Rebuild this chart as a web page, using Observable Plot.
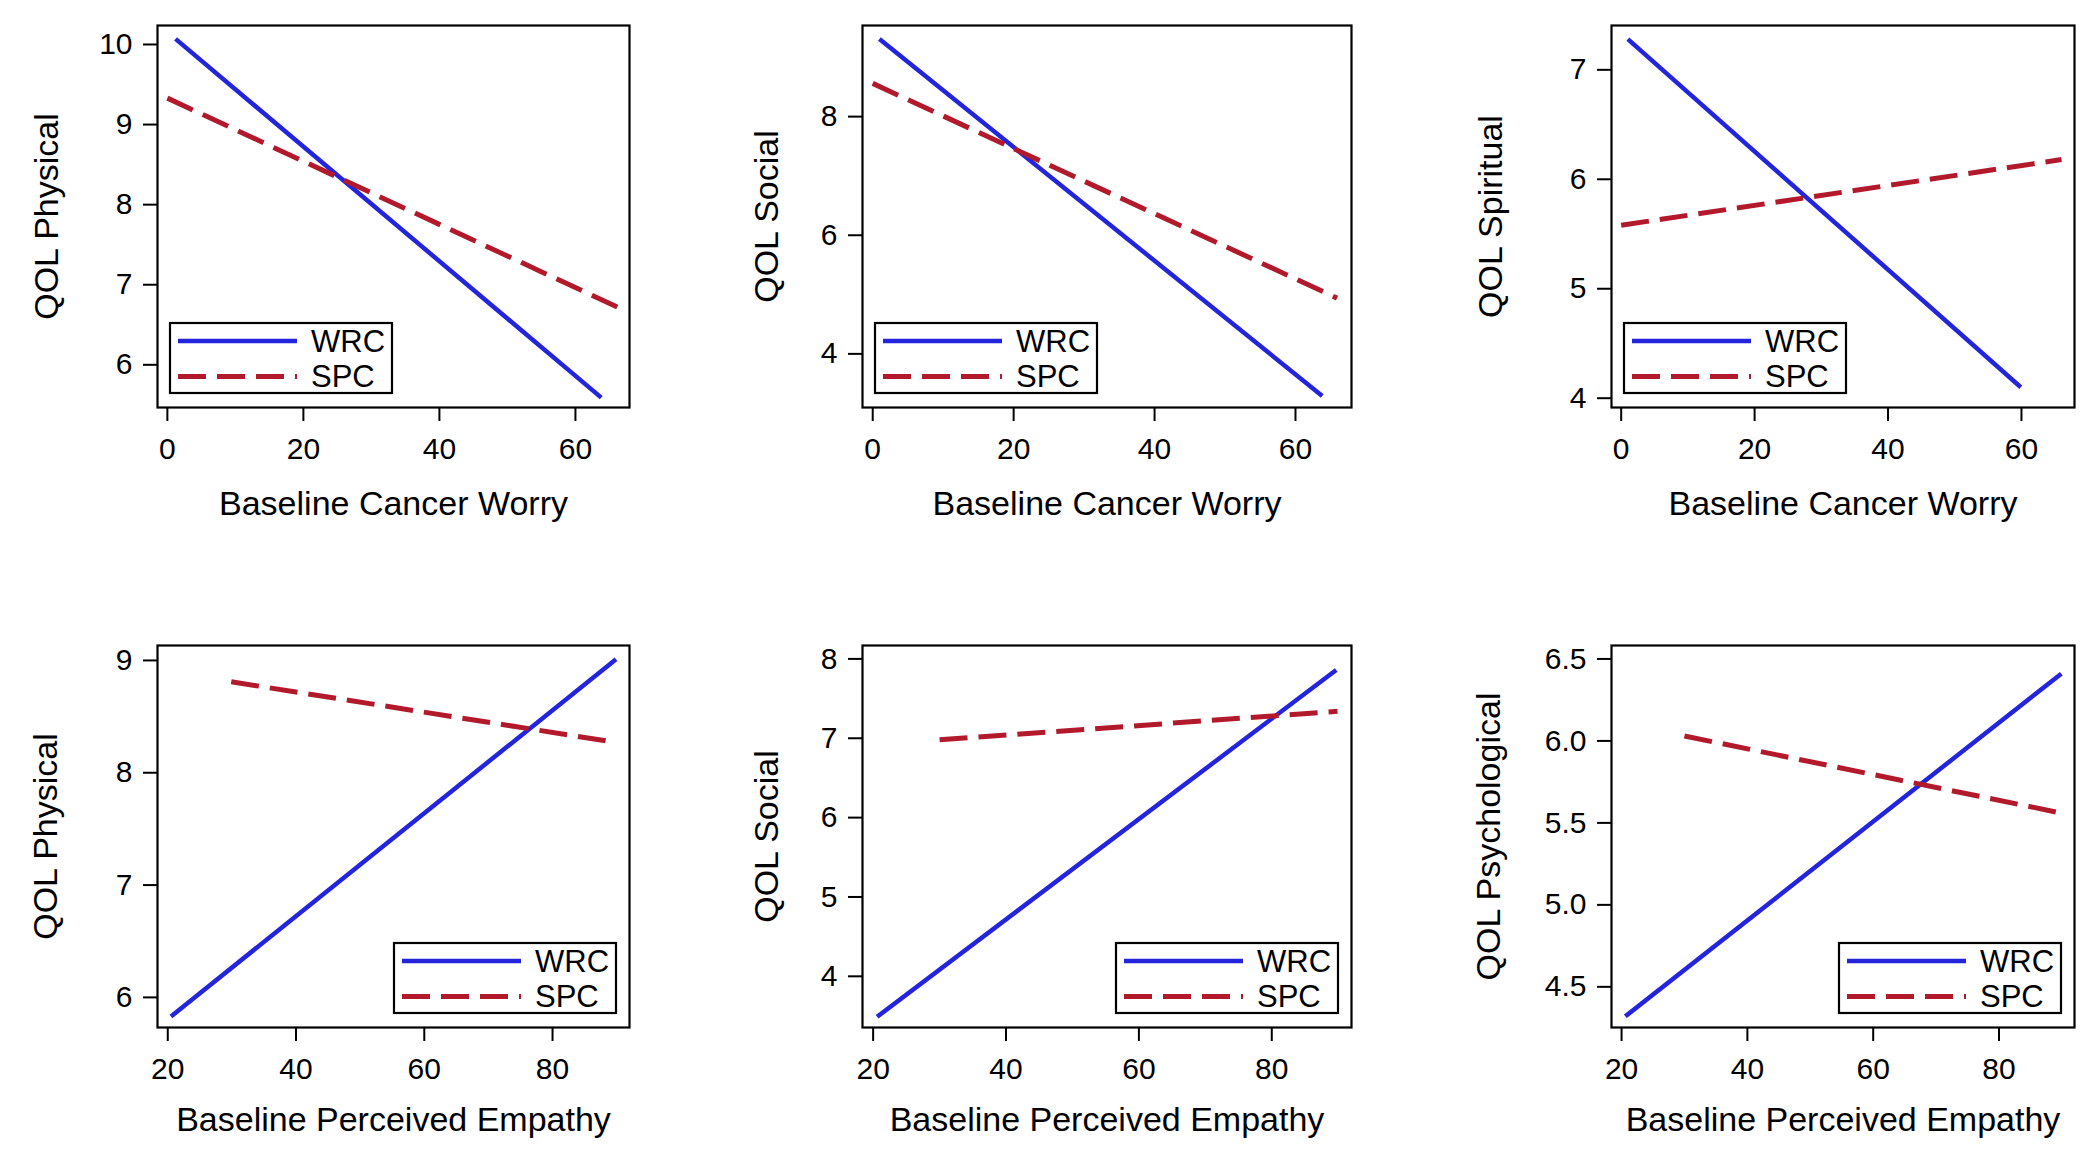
<!DOCTYPE html>
<html>
<head>
<meta charset="utf-8">
<script src="https://cdn.jsdelivr.net/npm/d3@7"></script>
<script src="https://cdn.jsdelivr.net/npm/@observablehq/plot@0.6"></script>
<style>
  body { margin: 0; background: #fff; }
  #root { position: relative; width: 2100px; height: 1165px; background: #fff;
          font-family: "Liberation Sans", Arial, sans-serif; }
  .cell { position: absolute; }
  .legend { position: absolute; overflow: visible; }
</style>
</head>
<body>
<div id="root"></div>
<script>
// ---------------- data ----------------
const groups = ["WRC", "SPC"];
const xTitles = ["Baseline Cancer Worry", "Baseline Cancer Worry", "Baseline Cancer Worry",
                 "Baseline Perceived Empathy", "Baseline Perceived Empathy", "Baseline Perceived Empathy"];
const yTitles = ["QOL Physical", "QOL Social", "QOL Spiritual",
                 "QOL Physical", "QOL Social", "QOL Psychological"];

// x tick values per row
const xTicksTop = [0, 20, 40, 60];
const xTicksBottom = [20, 40, 60, 80];
const xDomainTop = [-1.45, 67.95];
const xDomainBottom = [18.4, 92.0];

// y ticks and domains per panel
const yTicks = [[6, 7, 8, 9, 10], [4, 6, 8], [4, 5, 6, 7], [6, 7, 8, 9], [4, 5, 6, 7, 8], [4.5, 5.0, 5.5, 6.0, 6.5]];
const yDomains = [[5.467, 10.237], [3.096, 9.536], [3.915, 7.405], [5.732, 9.133], [3.355, 8.169], [4.252, 6.582]];
const yFormats = ["d", "d", "d", "d", "d", ".1f"];

// series endpoints (start, end) per panel
const wrcX = [[1.2, 63.8], [0.95, 63.8], [1.0, 59.9], [20.5, 89.9], [20.6, 89.7], [20.6, 89.9]];
const wrcY = [[10.07, 5.59], [9.31, 3.29], [7.28, 4.10], [5.83, 9.01], [3.49, 7.86], [4.32, 6.41]];
const spcX = [[0, 66.2], [0, 65.9], [0, 66.0], [29.9, 89.9], [30.0, 89.9], [30.0, 89.9]];
const spcY = [[9.33, 6.72], [8.56, 4.94], [5.58, 6.18], [8.81, 8.27], [6.98, 7.34], [6.03, 5.56]];

// ---------------- layout / style ----------------
const BLUE = "#2424dc";
const RED = "#b21a2c";
const DASH = "28,11";
const FONT = '"Liberation Sans", Arial, sans-serif';

const cols = [
  {left: 0,    width: 700, ml: 157, mr: 71},
  {left: 700,  width: 700, ml: 162, mr: 49},
  {left: 1400, width: 700, ml: 211, mr: 26}
];
const rows = [
  {top: 0,   height: 580, mt: 25, mb: 173, xtdy: 107},
  {top: 580, height: 585, mt: 65, mb: 138, xtdy: 103}
];
const yTitleDx = [-110, -95, -120, -111, -95, -122];

const root = document.getElementById("root");

for (let i = 0; i < 6; i++) {
  const r = Math.floor(i / 3), c = i % 3;
  const col = cols[c], row = rows[r];
  const data = [];
  for (let k = 0; k < 2; k++) data.push({x: wrcX[i][k], y: wrcY[i][k], g: groups[0]});
  for (let k = 0; k < 2; k++) data.push({x: spcX[i][k], y: spcY[i][k], g: groups[1]});

  const chart = Plot.plot({
    width: col.width,
    height: row.height,
    marginLeft: col.ml,
    marginRight: col.mr,
    marginTop: row.mt,
    marginBottom: row.mb,
    style: {fontFamily: FONT, fontSize: "30px", color: "black", background: "white", overflow: "visible"},
    x: {domain: r === 0 ? xDomainTop : xDomainBottom},
    y: {domain: yDomains[i]},
    marks: [
      Plot.axisX({ticks: r === 0 ? xTicksTop : xTicksBottom, tickSize: 14, tickPadding: 16,
                  strokeWidth: 2, fontSize: 30, label: null, tickFormat: "d"}),
      Plot.axisY({ticks: yTicks[i], tickSize: 14, tickPadding: 11, strokeWidth: 2,
                  fontSize: 30, label: null, tickFormat: d3.format(yFormats[i])}),
      Plot.line(data.filter(d => d.g === "WRC"), {x: "x", y: "y", stroke: BLUE, strokeWidth: 4.5, strokeLinecap: "butt"}),
      Plot.line(data.filter(d => d.g === "SPC"), {x: "x", y: "y", stroke: RED, strokeWidth: 5,
                strokeDasharray: DASH, strokeLinecap: "butt"}),
      Plot.frame({stroke: "black", strokeWidth: 2.2}),
      Plot.text([xTitles[i]], {text: d => d, frameAnchor: "bottom", textAnchor: "middle", dy: row.xtdy, fontSize: 34, fill: "black"}),
      Plot.text([yTitles[i]], {text: d => d, frameAnchor: "left", textAnchor: "middle", dx: yTitleDx[i], rotate: -90, fontSize: 34, fill: "black"})
    ]
  });
  chart.classList.add("cell");
  chart.style.left = col.left + "px";
  chart.style.top = row.top + "px";
  root.appendChild(chart);

  // legend box inside frame
  const lw = 224, lh = 72;
  const frameLeft = col.left + col.ml;
  const frameRight = col.left + col.width - col.mr;
  const frameBottom = row.top + row.height - row.mb;
  const lx = r === 0 ? frameLeft + 12 : frameRight - 12 - lw;
  const ly = frameBottom - 13 - lh;
  const svg = d3.create("svg")
    .attr("class", "legend")
    .attr("width", lw).attr("height", lh)
    .style("left", lx + "px").style("top", ly + "px");
  svg.append("rect").attr("x", 1).attr("y", 1).attr("width", lw - 2).attr("height", lh - 2)
    .attr("fill", "white").attr("stroke", "black").attr("stroke-width", 2.2);
  const items = [{g: groups[0], color: BLUE, dash: null, cy: 19, w: 4.5}, {g: groups[1], color: RED, dash: DASH, cy: 54.5, w: 5}];
  for (const it of items) {
    svg.append("line").attr("x1", 9).attr("x2", 128).attr("y1", it.cy).attr("y2", it.cy)
      .attr("stroke", it.color).attr("stroke-width", it.w).attr("stroke-dasharray", it.dash);
    svg.append("text").attr("x", 142).attr("y", it.cy).attr("dy", "0.35em")
      .attr("font-family", FONT).attr("font-size", 31).attr("fill", "black").text(it.g);
  }
  root.appendChild(svg.node());
}
</script>
</body>
</html>
